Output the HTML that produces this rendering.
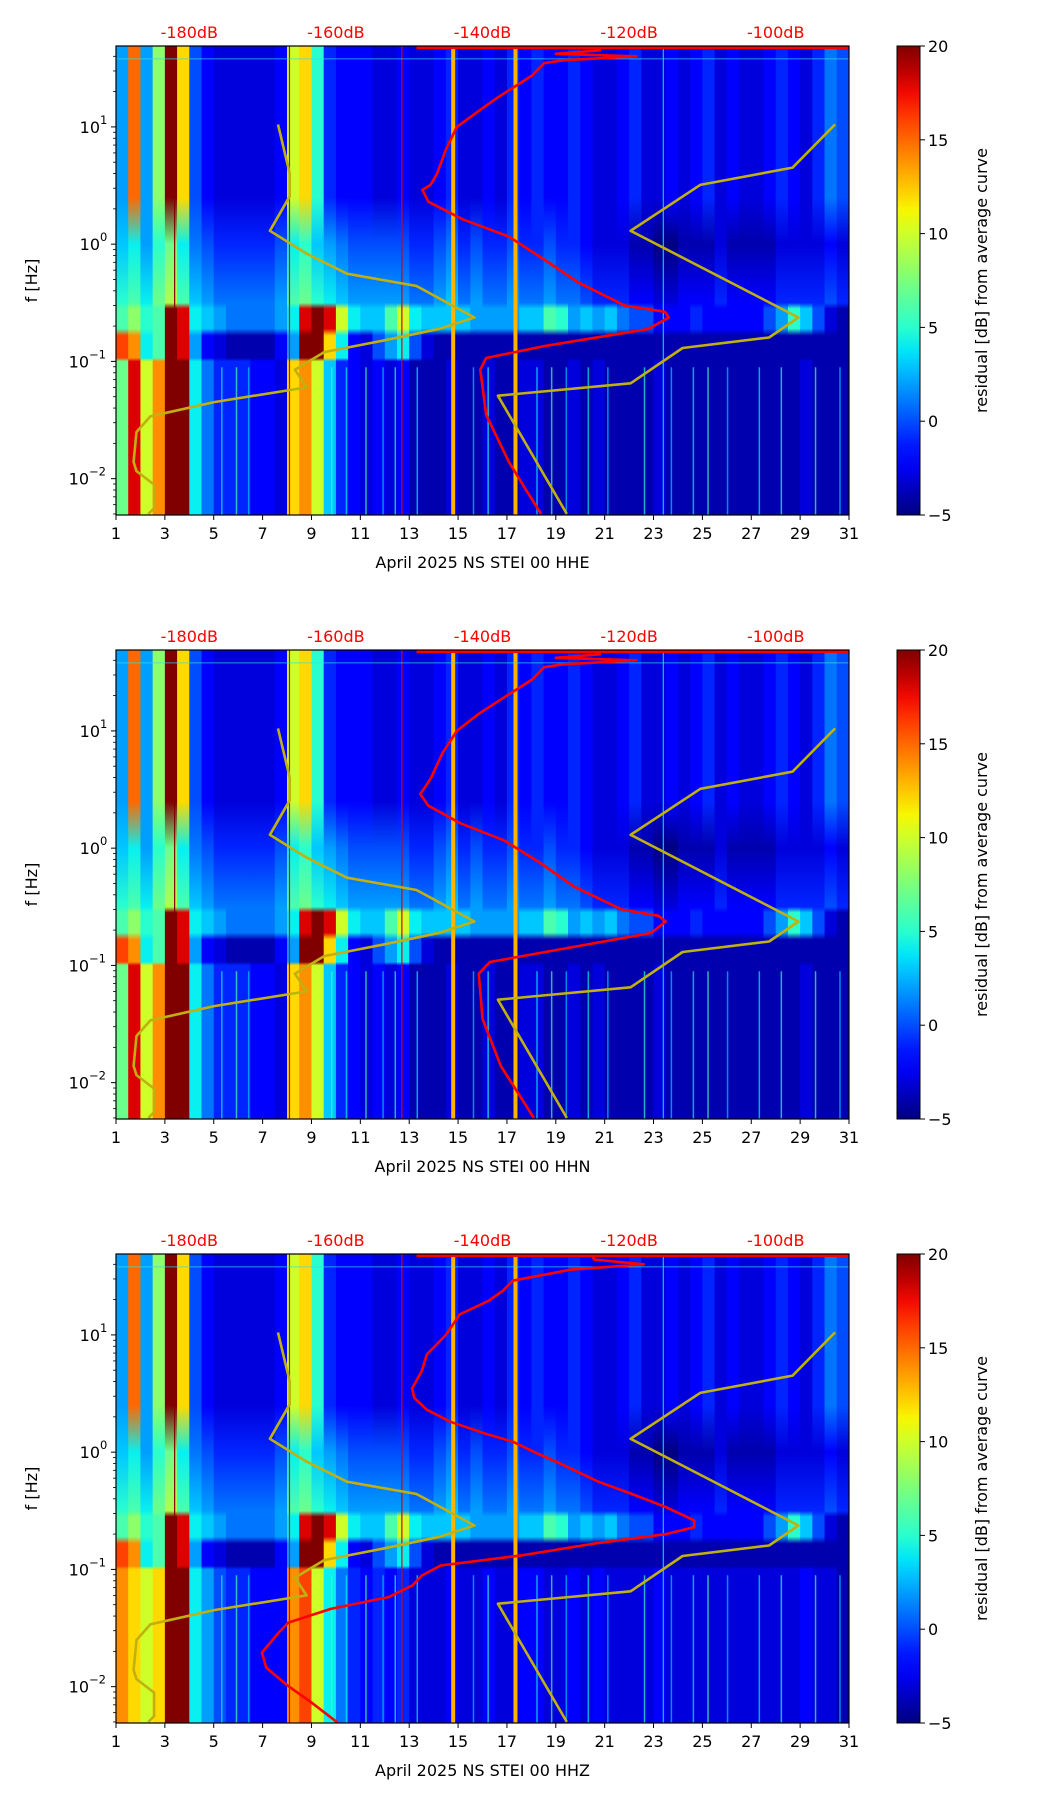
<!DOCTYPE html>
<html><head><meta charset="utf-8"><style>
html,body{margin:0;padding:0;background:#fff;}
svg{display:block;font-family:"DejaVu Sans","Liberation Sans",sans-serif;}
</style></head><body>
<svg id="fig" xmlns="http://www.w3.org/2000/svg" width="1052" height="1806" viewBox="0 0 1052 1806">
<defs id="defs"></defs>
</svg>
<script>
// ---- data ----
const channels = ["HHE","HHN","HHZ"];
const hiBand = [2,15,2,8,20,12,0,-2,-3,-3, -3,-3,-3,-2,10,12,5,-1,-2,-2, -2,-3,-3,-2,-3,-3,-2,-1,-3,-3, -2,-3,-1,-2,-1,-2,-2,-1,-2,-3, -3,-2,-1,-3,-3,-2,-3,-2,-1,-3, -2,-3,-3,-2,-1,-2,-3,-1,1,0];
const midBand = [4,5,3,6,8,5,2,1,0,0, 0,0,0,1,5,6,4,3,2,1, 1,1,1,1,0,0,1,2,0,1, 0,0,1,0,0,1,0,0,-1,-2, -2,-2,-3,-3,-4,-4,-3,-3,-3,-2, -3,-3,-3,-3,-2,-2,-2,-2,-1,-2];
const microBand = [6,8,5,6,20,18,4,3,2,1, 1,1,1,2,4,18,20,18,10,4, 3,3,6,10,4,3,3,3,3,2, 2,2,2,3,3,6,5,2,3,2, 3,1,0,0,-2,-2,-2,-1,-2,-2, -2,-2,-2,0,2,5,3,0,-3,-4];
const subMicroBand = [16,14,4,6,20,18,2,-2,-3,-4, -4,-4,-4,-2,2,20,20,12,4,-2, -3,0,2,4,0,-3,-4,-4,-4,-4, -4,-4,-4,-4,-4,-4,-4,-4,-4,-4, -4,-4,-4,-4,-4,-4,-4,-4,-4,-4, -4,-4,-4,-4,-4,-4,-4,-4,-4,-4];
const lowBand = [7,18,10,14,20,20,4,1,-1,-1, -1,-2,-2,-3,12,14,10,3,-1,-2, -3,-2,-3,-2,-4,-4,-4,-3,-4,-4, -3,-4,-4,-3,-3,-4,-4,-3,-4,-3, -4,-4,-4,-4,-3,-4,-4,-4,-4,-4, -4,-4,-4,-4,-4,-4,-3,-4,-4,-4];
const lowBandZ = [14,12,10,12,20,20,4,2,0,-1, -1,-2,-2,-2,14,16,10,4,1,-1, -2,-1,-2,-1,-3,-3,-3,-2,-3,-3, -2,-3,-3,-2,-2,-3,-3,-2,-3,-2, -3,-3,-3,-3,-2,-3,-3,-3,-3,-3, -3,-3,-3,-3,-3,-3,-2,-3,-3,-4];
const eventDays = [3.4, 8.1, 12.7, 14.8, 17.35, 23.4];
const eventLevels = [20, 18, 18, 13, 13, 3];
const streakDays = [5.3,5.9,6.4,9.8,10.4,11.2,11.9,12.4,13.3,15.6,16.2,18.2,18.8,19.4,20.3,21.1,22.6,23.7,24.6,25.2,26.0,27.3,28.2,29.6,30.6];
const streakLevels = [4,6,3,5,4,6,3,5,4,3,5,4,6,3,4,3,5,3,4,6,3,4,5,6,3];
// red curves: frequency (Hz) and level (dB)
const redF1 = [49,45,42,40,37,35,27.5,17.7,14,10,6.4,4.0,3.2,2.9,2.3,1.63,1.16,0.74,0.47,0.30,0.265,0.237,0.189,0.135,0.107,0.085,0.035,0.0139,0.0079,0.005];
const redDb1 = [-125,-124,-130,-119,-129,-131.6,-133.2,-138,-140.3,-143.5,-145,-146.2,-147.1,-148.2,-147.4,-142.7,-136.4,-131.6,-126.9,-120.6,-115.1,-114.6,-117.4,-131.6,-139.5,-140.3,-139.5,-136.4,-134,-132];
const redF2 = [49,45,42,40,37,35,27.5,17.7,14,10,6.4,4.0,3.2,2.9,2.3,1.63,1.16,0.74,0.47,0.30,0.265,0.237,0.189,0.135,0.107,0.085,0.035,0.0139,0.0079,0.005];
const redDb2 = [-125,-124,-130,-119,-129,-131.6,-133.2,-138,-140.5,-143.5,-145.5,-147,-148,-148.5,-147.4,-143,-137,-132,-127.5,-121,-116,-115,-117,-130,-139,-140.5,-140,-137.5,-135,-133];
const redF3 = [49,44,40,36,29,23.8,19.5,15,10,6.8,4.9,3.5,2.9,2.3,1.82,1.45,1.23,0.98,0.80,0.56,0.44,0.34,0.262,0.229,0.20,0.166,0.132,0.108,0.0885,0.0727,0.058,0.046,0.0352,0.0289,0.0195,0.0145,0.0101,0.0073,0.0049];
const redDb3 = [-125,-124.8,-118,-128,-135.9,-137.2,-139.2,-143.1,-145,-147.6,-148.3,-149.6,-149.3,-147.6,-144.4,-139.8,-135.9,-132.6,-129.4,-124.2,-119.6,-115,-111.1,-111.1,-115,-124.8,-134.6,-145.7,-148.3,-149.6,-152.8,-160.7,-166.5,-167.8,-170.1,-169.5,-166.5,-163.3,-159.7];
const topLineDb = [-149, -90];
// noise models
const nlnmF = [10.5,4.0,2.56,1.30,0.83,0.56,0.44,0.237,0.19,0.15,0.12,0.085,0.060,0.045,0.034,0.025,0.0139,0.0116,0.0089,0.0056,0.005];
const nlnmDb = [-167.9,-166.3,-166.3,-169.0,-164.0,-158.5,-149.0,-141.1,-145.8,-153.7,-161.6,-165.6,-164.0,-176.6,-185.3,-187.2,-187.6,-187.2,-184.8,-184.8,-185.6];
const nhnmF = [10.5,4.5,3.2,1.30,0.237,0.16,0.13,0.065,0.051,0.005];
const nhnmDb = [-91.9,-97.7,-110.3,-119.8,-96.9,-100.9,-112.7,-119.8,-137.9,-128.5];
const xTickDays = [1,3,5,7,9,11,13,15,17,19,21,23,25,27,29,31];
const dbTicks = [-180,-160,-140,-120,-100];
const cbTicks = [20,15,10,5,0,-5];
const yDecades = [1,0,-1,-2];

// ---- layout ----
const NS="http://www.w3.org/2000/svg";
const svg=document.getElementById('fig');
const defs=document.getElementById('defs');
const L=116,R=849,H=469,LOGTOP=1.69,LOGSPAN=4,VMIN=-5,VMAX=20;
const tops=[46,650,1254];
function el(tag,attrs,parent){const e=document.createElementNS(NS,tag);for(const k in attrs)e.setAttribute(k,attrs[k]);(parent||svg).appendChild(e);return e;}
function jet(v){let t=(v-VMIN)/(VMAX-VMIN);t=Math.max(0,Math.min(1,t));
 function interp(pts){for(let i=1;i<pts.length;i++){if(t<=pts[i][0]){const a=pts[i-1],b=pts[i];return a[1]+(b[1]-a[1])*(t-a[0])/(b[0]-a[0]);}}return pts[pts.length-1][1];}
 const r=interp([[0,0],[0.35,0],[0.66,1],[0.89,1],[1,0.5]]);
 const g=interp([[0,0],[0.125,0],[0.375,1],[0.64,1],[0.91,0],[1,0]]);
 const b=interp([[0,0.5],[0.11,1],[0.34,1],[0.65,0],[1,0]]);
 return 'rgb('+Math.round(r*255)+','+Math.round(g*255)+','+Math.round(b*255)+')';}
const X=d=>L+(d-1)*(R-L)/30;
const XdB=db=>L+(db+190)*(R-L)/100;
const fracF=lf=>(LOGTOP-lf)/LOGSPAN;

tops.forEach((top,p)=>{
 const Y=f=>top+fracF(Math.log10(f))*H;
 const g=el('g',{});
 
 
 const clipId='clip'+p;
 const cp=el('clipPath',{id:clipId},defs);el('rect',{x:L,y:top,width:R-L,height:H},cp);
 const plot=el('g',{'clip-path':'url(#'+clipId+')'},g);
 el('rect',{x:L,y:top,width:R-L,height:H,fill:jet(-5)},plot);
 const low=(p===2)?lowBandZ:lowBand;
 const n=hiBand.length,cw=(R-L)/n;
 for(let i=0;i<n;i++){
  const gid='gr'+p+'_'+i;
  const lg=el('linearGradient',{id:gid,x1:0,y1:0,x2:0,y2:1},defs);
  const stops=[[0,hiBand[i]],[fracF(0.4),hiBand[i]],[fracF(0),midBand[i]-1],[fracF(-0.5),midBand[i]+1],[fracF(-0.55),microBand[i]],[fracF(-0.72),microBand[i]],[fracF(-0.78),subMicroBand[i]],[fracF(-0.97),subMicroBand[i]],[fracF(-1.0),low[i]],[1,low[i]]];
  stops.forEach(s=>el('stop',{offset:s[0],'stop-color':jet(s[1])},lg));
  const r=el('rect',{x:X(1+i*0.5),y:top,width:cw+0.6,height:H,fill:'url(#'+gid+')'},plot);
  
  
 }
 streakDays.forEach((d,k)=>{
  const r=el('rect',{x:X(d),y:top+fracF(-1.05)*H,width:1.5,height:H*(1-fracF(-1.05)),fill:jet(streakLevels[k]),opacity:0.7},plot);
  
  
 });
 eventDays.forEach((d,k)=>{
  const w=(eventLevels[k]>15||eventLevels[k]<5)?1.2:4;
  const r=el('rect',{x:X(d)-w/2,y:top,width:w,height:H,fill:jet(eventLevels[k])},plot);
  
  
 });
 el('line',{x1:L,x2:R,y1:Y(38),y2:Y(38),stroke:'#30e0e0','stroke-width':1,opacity:0.7},plot);
 function poly(fs,dbs,color,name,w){const pts=fs.map((f,k)=>XdB(dbs[k]).toFixed(1)+','+Y(f).toFixed(1)).join(' ');
  const e=el('polyline',{points:pts,fill:'none',stroke:color,'stroke-width':w,'stroke-linejoin':'round'},plot);
  }
 poly(nlnmF,nlnmDb,'#c0b010','nlnm-model-curve',2.6);
 poly(nhnmF,nhnmDb,'#c0b010','nhnm-model-curve',2.6);
 const rf=[redF1,redF2,redF3][p],rd=[redDb1,redDb2,redDb3][p];
 poly(rf,rd,'#ff0000','average-noise-curve',2.6);
 const tl=el('line',{x1:XdB(topLineDb[0]),x2:XdB(topLineDb[1]),y1:top+1.5,y2:top+1.5,stroke:'#ff0000','stroke-width':3},plot);
 
 // frame
 el('rect',{x:L,y:top,width:R-L,height:H,fill:'none',stroke:'#000','stroke-width':1.2},g);
 // x ticks
 xTickDays.forEach(d=>{const x=X(d);el('line',{x1:x,x2:x,y1:top+H,y2:top+H+5,stroke:'#000','stroke-width':1},g);
  const t=el('text',{x:x,y:top+H+24,'font-size':16,'text-anchor':'middle'},g);t.textContent=d;
  });
 const xl=el('text',{x:(L+R)/2,y:top+H+53,'font-size':16,'text-anchor':'middle'},g);
 xl.textContent='April 2025 NS STEI 00 '+channels[p];
 
 // top dB labels
 dbTicks.forEach(db=>{const t=el('text',{x:XdB(db),y:top-8,'font-size':16,'text-anchor':'middle',fill:'#ff0000'},g);t.textContent=db+'dB';
  });
 // y ticks
 yDecades.forEach(e=>{const y=Y(Math.pow(10,e));el('line',{x1:L-5,x2:L,y1:y,y2:y,stroke:'#000','stroke-width':1},g);
  const expW=e<0?19:8;
  const t=el('text',{x:L-8-expW,y:y+6,'font-size':16,'text-anchor':'end'},g);t.textContent='10';
  const s=el('text',{x:L-8-expW,y:y-3,'font-size':11.5,'text-anchor':'start'},g);s.textContent=(e<0?'\u2212':'')+Math.abs(e);
  
  });
 for(let e=-3;e<=1;e++)for(let m=2;m<=9;m++){const f=m*Math.pow(10,e);const lf=Math.log10(f);
  if(lf<LOGTOP-LOGSPAN||lf>LOGTOP)continue;const y=Y(f);el('line',{x1:L-3,x2:L,y1:y,y2:y,stroke:'#000','stroke-width':0.8},g);}
 const yl=el('text',{x:0,y:0,'font-size':16,'text-anchor':'middle',transform:'translate(37,'+(top+H/2)+') rotate(-90)'},g);
 yl.textContent='f [Hz]';
 // colorbar
 const cg=el('g',{},g);
 const cid='cb'+p;const clg=el('linearGradient',{id:cid,x1:0,y1:1,x2:0,y2:0},defs);
 for(let k=0;k<=20;k++){el('stop',{offset:k/20,'stop-color':jet(VMIN+(VMAX-VMIN)*k/20)},clg);}
 el('rect',{x:897,y:top,width:23,height:H,fill:'url(#'+cid+')',stroke:'#000','stroke-width':1},cg);
 cbTicks.forEach(v=>{const y=top+(VMAX-v)/(VMAX-VMIN)*H;el('line',{x1:920,x2:925,y1:y,y2:y,stroke:'#000'},cg);
  const t=el('text',{x:928,y:y+6,'font-size':16},cg);t.textContent=(v<0?'\u2212':'')+Math.abs(v);
  });
 const cl=el('text',{x:0,y:0,'font-size':16,'text-anchor':'middle',transform:'translate(987,'+(top+H/2)+') rotate(-90)'},cg);
 cl.textContent='residual [dB] from average curve';
});
</script>
</body></html>
